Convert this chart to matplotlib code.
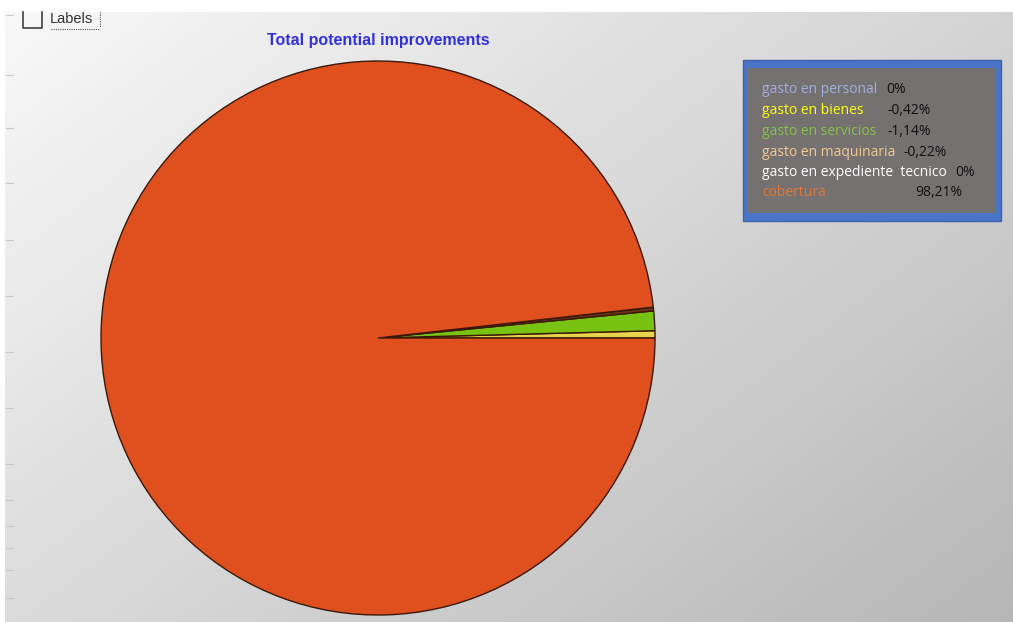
import numpy as np
import matplotlib
matplotlib.use("Agg")
import matplotlib.pyplot as plt
from matplotlib.patches import Rectangle

# Chart data
categories = ["gasto en personal", "gasto en bienes", "gasto en servicios",
              "gasto en maquinaria", "gasto en expediente  tecnico", "cobertura"]
values = [0.0, -0.42, -1.14, -0.22, 0.0, 98.21]
value_labels = ["0%", "-0,42%", "-1,14%", "-0,22%", "0%", "98,21%"]
wedge_colors = ["#9fb1dc", "#e8d44a", "#78c212", "#6a3414", "#ffffff", "#e0501f"]
legend_colors = ["#9fb0e0", "#ffff10", "#84c448", "#f6c890", "#ffffff", "#e07a3a"]

W, H = 1013, 622
fig = plt.figure(figsize=(W / 100, H / 100), dpi=100)
ax = fig.add_axes([0, 0, 1, 1])
ax.set_xlim(0, W)
ax.set_ylim(H, 0)
ax.axis("off")

# Gradient background panel
gx = np.linspace(0, 1, 400)
gy = np.linspace(0, 1, 250)
GX, GY = np.meshgrid(gx, gy)
shade = 0.975 - 0.145 * GX - 0.115 * GY
rgb = np.dstack([shade, shade, shade])
ax.imshow(rgb, extent=[5, W, H, 12], aspect="auto", zorder=0, interpolation="bilinear")

# faint axis ticks along the left edge
for ty in [15, 75, 128, 183, 240, 296, 352, 408, 464, 500, 526, 548, 570, 598]:
    ax.plot([6, 13], [ty, ty], color="#c8c8c8", lw=0.8, zorder=1)

# "Labels" checkbox (top edge hidden under the toolbar strip)
ax.plot([23, 23, 42, 42], [12, 28, 28, 12], color="#404040", lw=1.2, zorder=3)
ax.text(50, 19, "Labels", fontsize=10.5, family="Liberation Sans", color="#333333",
        va="center", ha="left", zorder=3)
ax.plot([51, 100], [29, 29], color="#555555", lw=0.8, ls=(0, (1, 1)), zorder=3)
ax.plot([99.5, 99.5], [12, 27], color="#555555", lw=0.8, ls=(0, (1, 1)), zorder=3)

# Title
ax.text(378, 40, "Total potential improvements", fontsize=11.5, family="Liberation Sans",
        fontweight="bold", color="#3232dc", ha="center", va="center", zorder=3)

# Pie (drawn in a separate axes spanning the pie's bounding square)
cx, cy, r = 378, 338, 277
pax = fig.add_axes([(cx - r) / W, 1 - (cy + r) / H, 2 * r / W, 2 * r / H])
sizes = [abs(v) for v in values]
pax.pie(sizes, colors=wedge_colors, startangle=0, counterclock=True,
        wedgeprops=dict(edgecolor="#3a1808", linewidth=1.0))
pax.set_xlim(-1, 1)
pax.set_ylim(-1, 1)
pax.set_aspect("auto")
pax.axis("off")

# Legend box
ax.add_patch(Rectangle((743, 60), 258, 161, facecolor="#4a74c8", edgecolor="#3b62b0",
                       lw=1.0, zorder=4))
ax.add_patch(Rectangle((748, 68), 248, 145, facecolor="#747170", edgecolor="none", zorder=5))

label_x = 762
value_x = [886, 887, 888, 903, 955, 915]
row_baseline = [93, 114, 135, 156, 176, 196]
for name, vlab, col, vx, yy in zip(categories, value_labels, legend_colors, value_x, row_baseline):
    ax.text(label_x, yy, name, fontsize=10, family="Open Sans", color=col,
            va="baseline", ha="left", zorder=6)
    ax.text(vx, yy, vlab, fontsize=10, family="Open Sans", color="#111111",
            va="baseline", ha="left", zorder=6)

fig.savefig("out.png", dpi=100)
